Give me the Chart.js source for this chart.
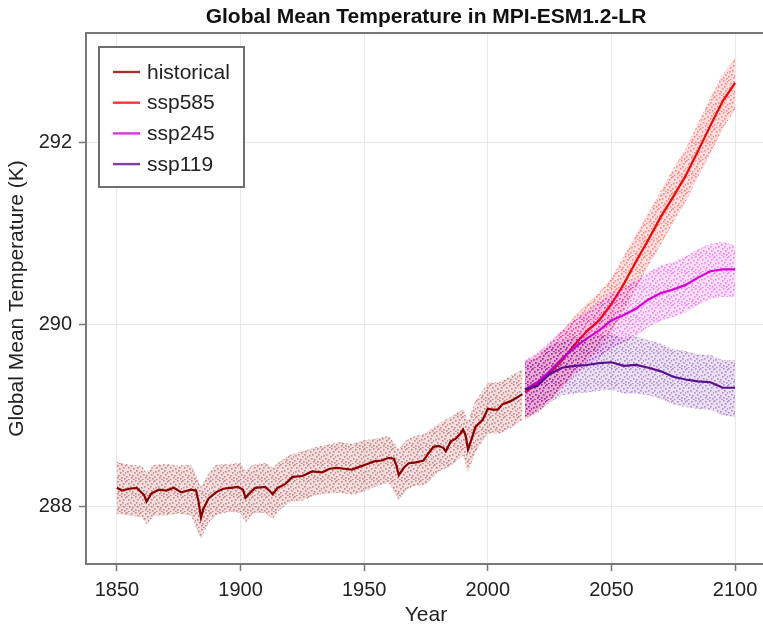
<!DOCTYPE html>
<html>
<head>
<meta charset="utf-8">
<script src="https://cdn.jsdelivr.net/npm/chart.js@4.4.1/dist/chart.umd.min.js"></script>
<style>
  html, body { margin: 0; padding: 0; background: #ffffff; overflow: hidden; }
  #wrap { width: 763px; height: 628px; overflow: hidden; }
</style>
</head>
<body>
<div id="wrap"><canvas id="c" width="770" height="628"></canvas></div>
<script>
// ---------------- data ----------------
const chartTitle = "Global Mean Temperature in MPI-ESM1.2-LR";
const xTitle = "Year";
const yTitle = "Global Mean Temperature (K)";
const xTicks = [1850, 1900, 1950, 2000, 2050, 2100];
const yTicks = [288, 290, 292];

// historical ensemble mean
const histYears = [1850,1852,1855,1858,1861,1862,1864,1867,1870,1873,1876,1880,1882,1883,1884,1885,1887,1890,1893,1896,1899,1901,1902,1904,1906,1910,1912,1913,1915,1918,1921,1925,1929,1933,1936,1939,1942,1945,1948,1951,1954,1957,1960,1962,1963,1964,1966,1968,1971,1974,1976,1978,1980,1982,1983,1985,1987,1989,1990,1991,1992,1993,1995,1998,2000,2002,2004,2006,2009,2011,2014];
const histMean = [288.20,288.17,288.19,288.20,288.12,288.05,288.14,288.18,288.17,288.20,288.15,288.18,288.17,288.05,287.87,287.97,288.08,288.15,288.19,288.20,288.21,288.18,288.09,288.15,288.20,288.21,288.16,288.13,288.20,288.24,288.32,288.33,288.38,288.37,288.41,288.42,288.41,288.40,288.43,288.46,288.49,288.50,288.53,288.52,288.45,288.34,288.42,288.47,288.48,288.50,288.58,288.65,288.66,288.64,288.60,288.71,288.74,288.80,288.84,288.78,288.62,288.70,288.87,288.95,289.07,289.06,289.06,289.12,289.15,289.18,289.23];

// historical ensemble spread (upper / lower envelope of members)
const histBandYears = [1850,1855,1860,1862,1865,1870,1875,1880,1884,1887,1890,1895,1900,1902,1905,1910,1913,1915,1920,1925,1930,1935,1940,1945,1950,1955,1960,1964,1967,1970,1975,1980,1985,1990,1992,1995,2000,2005,2010,2014];
const histUpper = [288.48,288.45,288.44,288.36,288.45,288.46,288.44,288.45,288.20,288.35,288.45,288.46,288.47,288.38,288.45,288.47,288.42,288.47,288.56,288.60,288.64,288.67,288.70,288.68,288.72,288.74,288.77,288.62,288.72,288.76,288.80,288.90,288.98,289.06,288.92,289.15,289.35,289.36,289.44,289.50];
const histLower = [287.92,287.90,287.88,287.80,287.90,287.90,287.92,287.90,287.65,287.82,287.90,287.94,287.93,287.82,287.92,287.93,287.86,287.94,288.05,288.06,288.12,288.14,288.15,288.13,288.16,288.22,288.26,288.07,288.18,288.22,288.24,288.38,288.44,288.56,288.38,288.60,288.80,288.80,288.87,288.95];

// scenario years
const scenYears = [2015,2020,2025,2030,2035,2040,2045,2050,2055,2060,2065,2070,2075,2080,2085,2090,2095,2100];

const ssp585Mean  = [289.25,289.34,289.46,289.60,289.77,289.92,290.04,290.22,290.44,290.69,290.93,291.18,291.40,291.63,291.90,292.18,292.45,292.65];
const ssp585Upper = [289.58,289.66,289.78,289.92,290.08,290.22,290.34,290.50,290.74,290.98,291.22,291.46,291.70,291.92,292.20,292.48,292.74,292.92];
const ssp585Lower = [288.95,289.04,289.15,289.30,289.47,289.60,289.74,289.92,290.15,290.40,290.65,290.88,291.12,291.35,291.62,291.88,292.15,292.36];

const ssp245Mean  = [289.28,289.36,289.48,289.62,289.74,289.84,289.93,290.04,290.10,290.17,290.27,290.34,290.38,290.43,290.51,290.58,290.60,290.60];
const ssp245Upper = [289.60,289.68,289.80,289.93,290.04,290.14,290.24,290.34,290.40,290.48,290.57,290.64,290.68,290.74,290.82,290.88,290.90,290.86];
const ssp245Lower = [288.98,289.06,289.18,289.31,289.44,289.54,289.63,289.74,289.80,289.87,289.97,290.04,290.08,290.13,290.21,290.28,290.30,290.30];

const ssp119Mean  = [289.28,289.32,289.45,289.52,289.54,289.55,289.57,289.58,289.54,289.55,289.52,289.48,289.42,289.39,289.37,289.36,289.30,289.30];
const ssp119Upper = [289.58,289.62,289.76,289.82,289.85,289.86,289.87,289.88,289.84,289.86,289.82,289.78,289.72,289.70,289.66,289.66,289.60,289.60];
const ssp119Lower = [288.98,289.02,289.14,289.22,289.24,289.25,289.27,289.28,289.24,289.24,289.22,289.18,289.12,289.09,289.07,289.06,289.00,288.98];

// ---------------- styles ----------------
const FONT = "'Liberation Sans', 'Helvetica', Arial, sans-serif";
const lineColors = {
  historical: "rgb(139,0,0)",
  ssp585: "rgb(255,0,0)",
  ssp245: "rgb(214,0,216)",
  ssp119: "rgb(89,16,144)"
};
function rgba(c, a) { return c.replace("rgb(", "rgba(").replace(")", "," + a + ")"); }

// speckle texture for the member spread (pure styling tile)
const speckleSpots = [[0,0],[5,1],[9,0],[2,3],[7,4],[11,3],[1,7],[4,6],[8,8],[10,6],[3,10],[6,11],[11,10],[0,12],[5,13],[9,13],[2,15],[7,15],[12,14],[13,8],[13,1]];
function specklePattern(c) {
  const t = document.createElement("canvas");
  t.width = 14; t.height = 16;
  const g = t.getContext("2d");
  g.fillStyle = rgba(c, 0.13);
  g.fillRect(0, 0, 14, 16);
  g.fillStyle = rgba(c, 0.4);
  speckleSpots.forEach(p => g.fillRect(p[0], p[1], 1.6, 1.6));
  return document.getElementById("c").getContext("2d").createPattern(t, "repeat");
}

function pts(xs, ys) { return xs.map((x, i) => ({ x: x, y: ys[i] })); }

const groups = [
  { name: "historical", years: histYears, mean: histMean, bandYears: histBandYears, up: histUpper, lo: histLower },
  { name: "ssp585", years: scenYears, mean: ssp585Mean, bandYears: scenYears, up: ssp585Upper, lo: ssp585Lower },
  { name: "ssp245", years: scenYears, mean: ssp245Mean, bandYears: scenYears, up: ssp245Upper, lo: ssp245Lower },
  { name: "ssp119", years: scenYears, mean: ssp119Mean, bandYears: scenYears, up: ssp119Upper, lo: ssp119Lower }
];

const datasets = [];
groups.forEach(g => {
  const c = lineColors[g.name];
  datasets.push({
    label: g.name + " members (upper)", data: pts(g.bandYears, g.up),
    borderColor: rgba(c, 0.25), borderWidth: 1, borderDash: [1.5, 3],
    backgroundColor: specklePattern(c), fill: "+1", pointRadius: 0, tension: 0, isBand: true
  });
  datasets.push({
    label: g.name + " members (lower)", data: pts(g.bandYears, g.lo),
    borderColor: rgba(c, 0.25), borderWidth: 1, borderDash: [1.5, 3],
    fill: false, pointRadius: 0, tension: 0, isBand: true
  });
  datasets.push({
    label: g.name, data: pts(g.years, g.mean),
    borderColor: c, borderWidth: 2.2, fill: false, pointRadius: 0, tension: 0, isMean: true
  });
});
datasets.forEach((d, i) => { d.order = -i; });

// ---------------- plugins ----------------
const decorPlugin = {
  id: "decor",
  afterDraw(chart) {
    const ctx = chart.ctx;
    const a = chart.chartArea;
    ctx.save();
    // top and right spines
    ctx.strokeStyle = "#777777";
    ctx.lineWidth = 2;
    ctx.beginPath();
    ctx.moveTo(a.left - 1, a.top);
    ctx.lineTo(a.right, a.top);
    ctx.lineTo(a.right, a.bottom);
    ctx.stroke();
    // title
    ctx.fillStyle = "#111111";
    ctx.font = "bold 21px " + FONT;
    ctx.textAlign = "center";
    ctx.textBaseline = "alphabetic";
    ctx.fillText(chartTitle, (a.left + a.right) / 2, 23);
    // legend
    const means = chart.data.datasets.filter(d => d.isMean);
    const bx = 99, by = 47, bw = 145, bh = 140;
    ctx.fillStyle = "#ffffff";
    ctx.fillRect(bx, by, bw, bh);
    ctx.strokeStyle = "#6e6e6e";
    ctx.lineWidth = 2;
    ctx.strokeRect(bx, by, bw, bh);
    ctx.font = "21px " + FONT;
    ctx.textAlign = "left";
    ctx.textBaseline = "middle";
    means.forEach((d, i) => {
      const y = 72 + i * 30.7;
      ctx.strokeStyle = rgba(d.borderColor, 0.8);
      ctx.lineWidth = 2.4;
      ctx.beginPath();
      ctx.moveTo(113, y);
      ctx.lineTo(140, y);
      ctx.stroke();
      ctx.fillStyle = "#222222";
      ctx.fillText(d.label, 147, y + 1);
    });
    ctx.restore();
  }
};

// ---------------- chart ----------------
new Chart(document.getElementById("c"), {
  type: "line",
  data: { datasets: datasets },
  options: {
    responsive: false,
    animation: false,
    devicePixelRatio: 1,
    layout: { padding: { top: 33, right: 4, left: 0, bottom: 0 } },
    plugins: { legend: { display: false }, title: { display: false }, tooltip: { enabled: false } },
    scales: {
      x: {
        type: "linear", min: 1837.5, max: 2112.5,
        afterFit: s => { s.height = 64; },
        afterBuildTicks: s => { s.ticks = xTicks.map(v => ({ value: v })); },
        grid: { color: "#e8e8e8", lineWidth: 1, drawTicks: true, tickLength: 7, tickColor: "#777777", tickWidth: 1.5 },
        border: { color: "#777777", width: 2 },
        ticks: { font: { family: FONT, size: 20 }, color: "#222222", padding: 7, maxRotation: 0, callback: v => String(v) },
        title: { display: true, text: xTitle, font: { family: FONT, size: 21 }, color: "#222222", padding: { top: 0, bottom: 0 } }
      },
      y: {
        type: "linear", min: 287.363, max: 293.198,
        afterFit: s => { s.width = 86; },
        afterBuildTicks: s => { s.ticks = yTicks.map(v => ({ value: v })); },
        grid: { color: "#e8e8e8", lineWidth: 1, drawTicks: true, tickLength: 7, tickColor: "#777777", tickWidth: 1.5 },
        border: { color: "#777777", width: 2 },
        ticks: { font: { family: FONT, size: 20 }, color: "#222222", padding: 7, callback: v => String(v) },
        title: { display: true, text: yTitle, font: { family: FONT, size: 21 }, color: "#222222", padding: { top: 5, bottom: 0 } }
      }
    }
  },
  plugins: [decorPlugin]
});
</script>
</body>
</html>
